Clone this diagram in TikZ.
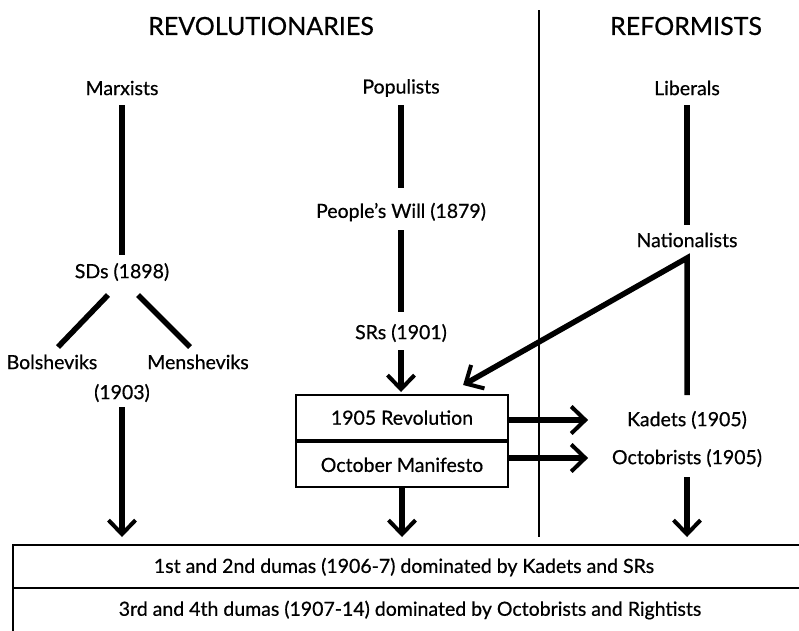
\documentclass[tikz,border=0pt]{standalone}
\usepackage{fontspec}
\setmainfont{Lato}[FakeBold=0.6]
\usetikzlibrary{arrows.meta,calc}
\begin{document}
\begin{tikzpicture}[x=1pt,y=-1pt,
  lbl/.style={font=\fontsize{19.5}{22}\selectfont, inner sep=0pt},
  ttl/.style={font=\fontsize{25}{28}\selectfont, inner sep=0pt},
  thk/.style={line width=5.5pt},
  arr/.style={line width=5.5pt,-{Straight Barb[length=14pt,width=27pt,line width=4pt]}},
  frame/.style={draw, line width=2.2pt},
  boxrow/.style={frame, font=\fontsize{19.5}{22}\selectfont, minimum width=212pt, inner sep=0pt},
]
\useasboundingbox (0,0) rectangle (799,630);
\clip (0,0) rectangle (799,630);

% titles
\node[ttl] (rev-t) at (261,26) {REVOLUTIONARIES};
\node[ttl] (ref-t) at (686,26) {REFORMISTS};

% divider
\coordinate (divtop) at (539,10);
\coordinate (divbot) at (539,537);
\draw[line width=2.2pt] (divtop) -- (divbot);

% labels
\node[lbl] (mar) at (122,88) {Marxists};
\node[lbl] (pop) at (401,88) {Populists};
\node[lbl] (lib) at (687,88) {Liberals};
\node[lbl] (pw)  at (401,212) {People's Will (1879)};
\node[lbl] (nat) at (687,240) {Nationalists};
\node[lbl] (sds) at (122,272) {SDs (1898)};
\node[lbl] (srs) at (401,333) {SRs (1901)};
\node[lbl] (bol) at (52,362) {Bolsheviks};
\node[lbl] (men) at (198,362) {Mensheviks};
\node[lbl] (y1903) at (122,393) {(1903)};
\node[lbl] (kad) at (687,420) {Kadets (1905)};
\node[lbl] (octb) at (687,458) {Octobrists (1905)};

% central box
\node[boxrow, minimum height=45pt, anchor=north] (rev) at (402,394) {1905 Revolution};
\node[boxrow, minimum height=45pt, anchor=north] (oct) at (rev.south) {October Manifesto};

% dumas
\draw[frame] (13,545) rectangle (840,588);
\draw[frame] (13,588) rectangle (840,660);
\coordinate (dtop) at (13,545);
\node[lbl] (d1) at (404,567) {1st and 2nd dumas (1906-7) dominated by Kadets and SRs};
\node[lbl] (d2) at (410,610) {3rd and 4th dumas (1907-14) dominated by Octobrists and Rightists};

% connectors
\draw[thk] ($(mar)+(0,17)$) -- ($(sds)+(0,-17)$);
\draw[thk] ($(sds)+(-14,23)$) -- ($(bol)+(6,-15)$);
\draw[thk] ($(sds)+(16,23)$) -- ($(men)+(-8,-15)$);
\draw[arr] ($(y1903)+(0,14)$) -- ($(y1903 |- dtop)+(0,-8)$);

\draw[thk] ($(pop)+(0,17)$) -- ($(pw)+(0,-24)$);
\draw[thk] ($(pw)+(0,18)$) -- ($(srs)+(0,-21)$);
\draw[arr] ($(srs)+(0,17)$) -- ($(srs |- rev.north)+(0,-2)$);
\draw[arr] (oct.south) -- ($(oct.south |- dtop)+(0,-8)$);

\draw[thk] ($(lib)+(0,17)$) -- ($(nat)+(0,-15)$);
\coordinate (natc) at ($(nat)+(0,18)$);
\draw[arr, line join=miter] ($(kad)+(0,-25)$) -- (natc) -- ($(rev.north east)+(-46,-9)$);
\draw[arr] (rev.east |- kad) -- ++(79,0);
\draw[arr] (oct.east |- octb) -- ++(79,0);
\draw[arr] ($(octb)+(0,19)$) -- ($(octb |- dtop)+(0,-8)$);
\end{tikzpicture}
\end{document}
